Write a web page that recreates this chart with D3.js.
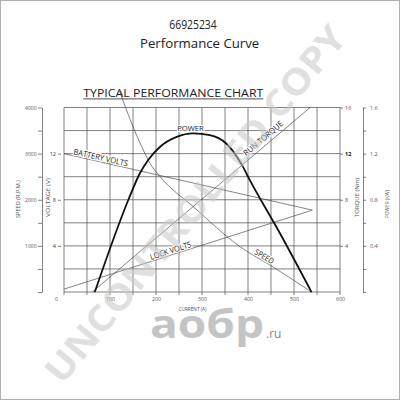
<!DOCTYPE html>
<html>
<head>
<meta charset="utf-8">
<script src="https://cdn.jsdelivr.net/npm/d3@7"></script>
<style>
body { margin: 0; background: #fff; }
text { font-family: "Open Sans", sans-serif; }
</style>
</head>
<body>
<div id="chart"></div>
<script>
// tick values
var currentTicks = [0, 100, 200, 300, 400, 500, 600];
var speedTicks = [1000, 2000, 3000, 4000];
var voltTicks = [4, 8, 12];
var torqueTicks = [4, 8, 12, 16];
var powerTicks = [0.4, 0.8, 1.2, 1.6];

// curves (current in A)
var speedAmps = [121, 147, 169, 187, 209, 281, 383, 455, 538];
var speedRpm = [4350, 3660, 3150, 2790, 2500, 1850, 980, 540, 0];

var powerAmps = [67, 140, 165, 183, 209, 245, 281, 317, 352, 387, 404, 470, 538];
var powerKw = [0, 0.80, 1.03, 1.145, 1.26, 1.345, 1.375, 1.36, 1.29, 1.10, 0.97, 0.505, 0];

var batteryAmps = [0, 540];
var batteryVolts = [12.0, 7.1];

var lockAmps = [0, 540];
var lockVolts = [0.25, 7.1];

var torqueAmps = [61.5, 535];
var torqueNm = [0, 16];

var svg = d3.select("#chart")
    .append("svg")
    .attr("width", 400)
    .attr("height", 400);

svg.append("rect")
    .attr("x", 0.5).attr("y", 0.5)
    .attr("width", 399).attr("height", 399)
    .attr("fill", "#fff")
    .attr("stroke", "#b0b0b0");

var x = d3.scaleLinear().domain([0, 600]).range([64, 340]),
    ySpeed = d3.scaleLinear().domain([0, 4000]).range([292, 107.5]),
    yVolt = d3.scaleLinear().domain([0, 16]).range([292, 107.5]),
    yTorque = d3.scaleLinear().domain([0, 16]).range([292, 107.5]),
    yPower = d3.scaleLinear().domain([0, 1.6]).range([292, 107.5]);

// titles
svg.append("text")
    .attr("x", 169.3).attr("y", 29.3)
    .attr("font-size", 12.3)
    .attr("textLength", 47.4).attr("lengthAdjust", "spacingAndGlyphs")
    .attr("fill", "#222")
    .text("66925234");

svg.append("text")
    .attr("x", 140).attr("y", 48.2)
    .attr("font-size", 12.6)
    .attr("textLength", 119.3).attr("lengthAdjust", "spacingAndGlyphs")
    .attr("fill", "#222")
    .text("Performance Curve");

svg.append("text")
    .attr("x", 83.3).attr("y", 96.7)
    .attr("font-size", 10.4)
    .attr("textLength", 180).attr("lengthAdjust", "spacingAndGlyphs")
    .attr("fill", "#222")
    .text("TYPICAL PERFORMANCE CHART");

svg.append("line")
    .attr("x1", 83.3).attr("x2", 263.3)
    .attr("y1", 98.9).attr("y2", 98.9)
    .attr("stroke", "#222").attr("stroke-width", 0.8);

// grid
var grid = svg.append("g").attr("class", "grid")
    .attr("stroke", "#4a4a4a").attr("stroke-width", 0.7);

grid.selectAll(".vx")
    .data(d3.range(0, 601, 50))
    .enter().append("line")
    .attr("x1", function (d) { return x(d); })
    .attr("x2", function (d) { return x(d); })
    .attr("y1", ySpeed(4000))
    .attr("y2", ySpeed(0) + 3);

grid.selectAll(".hy")
    .data(d3.range(0, 4001, 500))
    .enter().append("line")
    .attr("x1", x(0))
    .attr("x2", x(600))
    .attr("y1", function (d) { return ySpeed(d); })
    .attr("y2", function (d) { return ySpeed(d); });

function styleAxis(g, size) {
    g.selectAll("text")
        .attr("font-size", size)
        .attr("fill", "#555")
        .style("font-family", "'Open Sans', sans-serif");
    g.selectAll("line").attr("stroke", "#4a4a4a").attr("stroke-width", 0.7);
    g.select(".domain").attr("stroke", "#4a4a4a").attr("stroke-width", 0.7);
}

// current axis
var xAxis = svg.append("g")
    .attr("transform", "translate(0," + ySpeed(0) + ")")
    .call(d3.axisBottom(x).tickValues(currentTicks).tickSize(0).tickPadding(5));
xAxis.select(".domain").remove();
styleAxis(xAxis, 5.2);
xAxis.selectAll(".tick text")
    .attr("dx", function (d) { return d === 0 ? -8 : 0; });

// speed axis
var speedAxis = svg.append("g")
    .attr("transform", "translate(42,0)")
    .call(d3.axisLeft(ySpeed)
        .tickValues(d3.range(0, 4001, 500))
        .tickSize(4).tickSizeOuter(0).tickPadding(1.5)
        .tickFormat(function (d) { return speedTicks.indexOf(d) >= 0 ? d : ""; }));
styleAxis(speedAxis, 5);

// voltage ticks
var voltAxis = svg.append("g")
    .attr("transform", "translate(61,0)")
    .call(d3.axisLeft(yVolt).tickValues(voltTicks).tickSize(3).tickPadding(2));
voltAxis.select(".domain").remove();
styleAxis(voltAxis, 5.5);
voltAxis.selectAll("text").attr("fill", "#333");

// torque ticks
var torqueAxis = svg.append("g")
    .attr("transform", "translate(340,0)")
    .call(d3.axisRight(yTorque).tickValues(torqueTicks).tickSize(3).tickPadding(2));
torqueAxis.select(".domain").remove();
styleAxis(torqueAxis, 5.5);
torqueAxis.selectAll(".tick text")
    .attr("font-weight", function (d) { return d === 12 ? "bold" : null; })
    .attr("fill", function (d) { return d === 12 ? "#111" : "#555"; });

// power axis
var powerAxis = svg.append("g")
    .attr("transform", "translate(363,0)")
    .call(d3.axisRight(yPower)
        .tickValues(d3.range(0, 9).map(function (i) { return i * 0.2; }))
        .tickSize(3).tickSizeOuter(0).tickPadding(4)
        .tickFormat(function (d) {
            var v = Math.round(d * 10) / 10;
            return powerTicks.indexOf(v) >= 0 ? d3.format(".1f")(v) : "";
        }));
styleAxis(powerAxis, 5.5);

// axis titles
function vTitle(txt, cx, cy, len) {
    svg.append("text")
        .attr("transform", "translate(" + cx + "," + cy + ") rotate(-90)")
        .attr("text-anchor", "middle")
        .attr("dy", "0.35em")
        .attr("font-size", 6)
        .attr("fill", "#555")
        .attr("textLength", len).attr("lengthAdjust", "spacingAndGlyphs")
        .text(txt);
}
vTitle("SPEED (R.P.M.)", 18.3, 199, 38);
vTitle("VOLTAGE (V)", 47.5, 197.5, 39);
vTitle("TORQUE (Nm)", 356.7, 197.5, 39);
vTitle("POWER (KW)", 387, 204, 28);

svg.append("text")
    .attr("x", 192.5).attr("y", 310.5)
    .attr("text-anchor", "middle")
    .attr("font-size", 5.5)
    .attr("fill", "#555")
    .attr("textLength", 28).attr("lengthAdjust", "spacingAndGlyphs")
    .text("CURRENT (A)");

// curves
function series(amps, vals) {
    return amps.map(function (a, i) { return [a, vals[i]]; });
}

var thin = svg.append("g")
    .attr("fill", "none")
    .attr("stroke", "#333")
    .attr("stroke-width", 0.6);

var straight = function (ys) {
    return d3.line()
        .x(function (d) { return x(d[0]); })
        .y(function (d) { return ys(d[1]); });
};

thin.append("path").datum(series(batteryAmps, batteryVolts)).attr("d", straight(yVolt));
thin.append("path").datum(series(lockAmps, lockVolts)).attr("d", straight(yVolt));
thin.append("path").datum(series(torqueAmps, torqueNm)).attr("d", straight(yTorque));
thin.append("path").datum(series(speedAmps, speedRpm))
    .attr("d", straight(ySpeed).curve(d3.curveMonotoneX));

svg.append("path")
    .datum(series(powerAmps, powerKw))
    .attr("fill", "none")
    .attr("stroke", "#111")
    .attr("stroke-width", 1.8)
    .attr("d", straight(yPower).curve(d3.curveMonotoneX));

// line labels
var batteryAt = d3.scaleLinear().domain(batteryAmps).range(batteryVolts);
var lockAt = d3.scaleLinear().domain(lockAmps).range(lockVolts);
var torqueAt = d3.scaleLinear().domain(torqueAmps).range(torqueNm);
var speedAt = d3.scaleLinear().domain(speedAmps).range(speedRpm);

function lineLabel(txt, ys, fn, a0, a1, off, len) {
    var p0 = [x(a0), ys(fn(a0))], p1 = [x(a1), ys(fn(a1))];
    var ang = Math.atan2(p1[1] - p0[1], p1[0] - p0[0]);
    var px = p0[0] + off * Math.sin(ang), py = p0[1] - off * Math.cos(ang);
    svg.append("text")
        .attr("transform", "translate(" + px + "," + py + ") rotate(" + (ang * 180 / Math.PI) + ")")
        .attr("font-size", 8)
        .attr("fill", "#222")
        .attr("stroke", "#fff").attr("stroke-width", 2.2)
        .attr("paint-order", "stroke")
        .attr("textLength", len).attr("lengthAdjust", "spacingAndGlyphs")
        .text(txt);
}

lineLabel("BATTERY VOLTS", yVolt, batteryAt, 19, 140, 1.5, 55.7);
lineLabel("RUN TORQUE", yTorque, torqueAt, 402, 480, 4, 49);
lineLabel("LOCK VOLTS", yVolt, lockAt, 190, 290, 1.5, 43);
lineLabel("SPEED", ySpeed, speedAt, 411, 455, 1.5, 21);

svg.append("text")
    .attr("x", x(275)).attr("y", yPower(d3.max(powerKw)) - 2.3)
    .attr("text-anchor", "middle")
    .attr("font-size", 8)
    .attr("fill", "#222")
    .attr("stroke", "#fff").attr("stroke-width", 2.2)
    .attr("paint-order", "stroke")
    .attr("textLength", 26.7).attr("lengthAdjust", "spacingAndGlyphs")
    .text("POWER");

// watermarks
svg.append("text")
    .attr("transform", "translate(195,204) rotate(-50.5)")
    .attr("text-anchor", "middle")
    .attr("dy", "0.36em")
    .attr("font-size", 36)
    .attr("font-weight", "bold")
    .attr("fill", "#c8c8c8")
    .attr("opacity", 0.55)
    .attr("textLength", 450).attr("lengthAdjust", "spacingAndGlyphs")
    .text("UNCONTROLLED COPY");

svg.append("text")
    .attr("x", 150).attr("y", 338)
    .attr("font-size", 40)
    .attr("font-weight", "bold")
    .attr("fill", "#c4c4c4")
    .attr("textLength", 114).attr("lengthAdjust", "spacingAndGlyphs")
    .text("аобр");

svg.append("text")
    .attr("x", 266).attr("y", 338)
    .attr("font-size", 12)
    .attr("fill", "#888")
    .text(".ru");
</script>
</body>
</html>
